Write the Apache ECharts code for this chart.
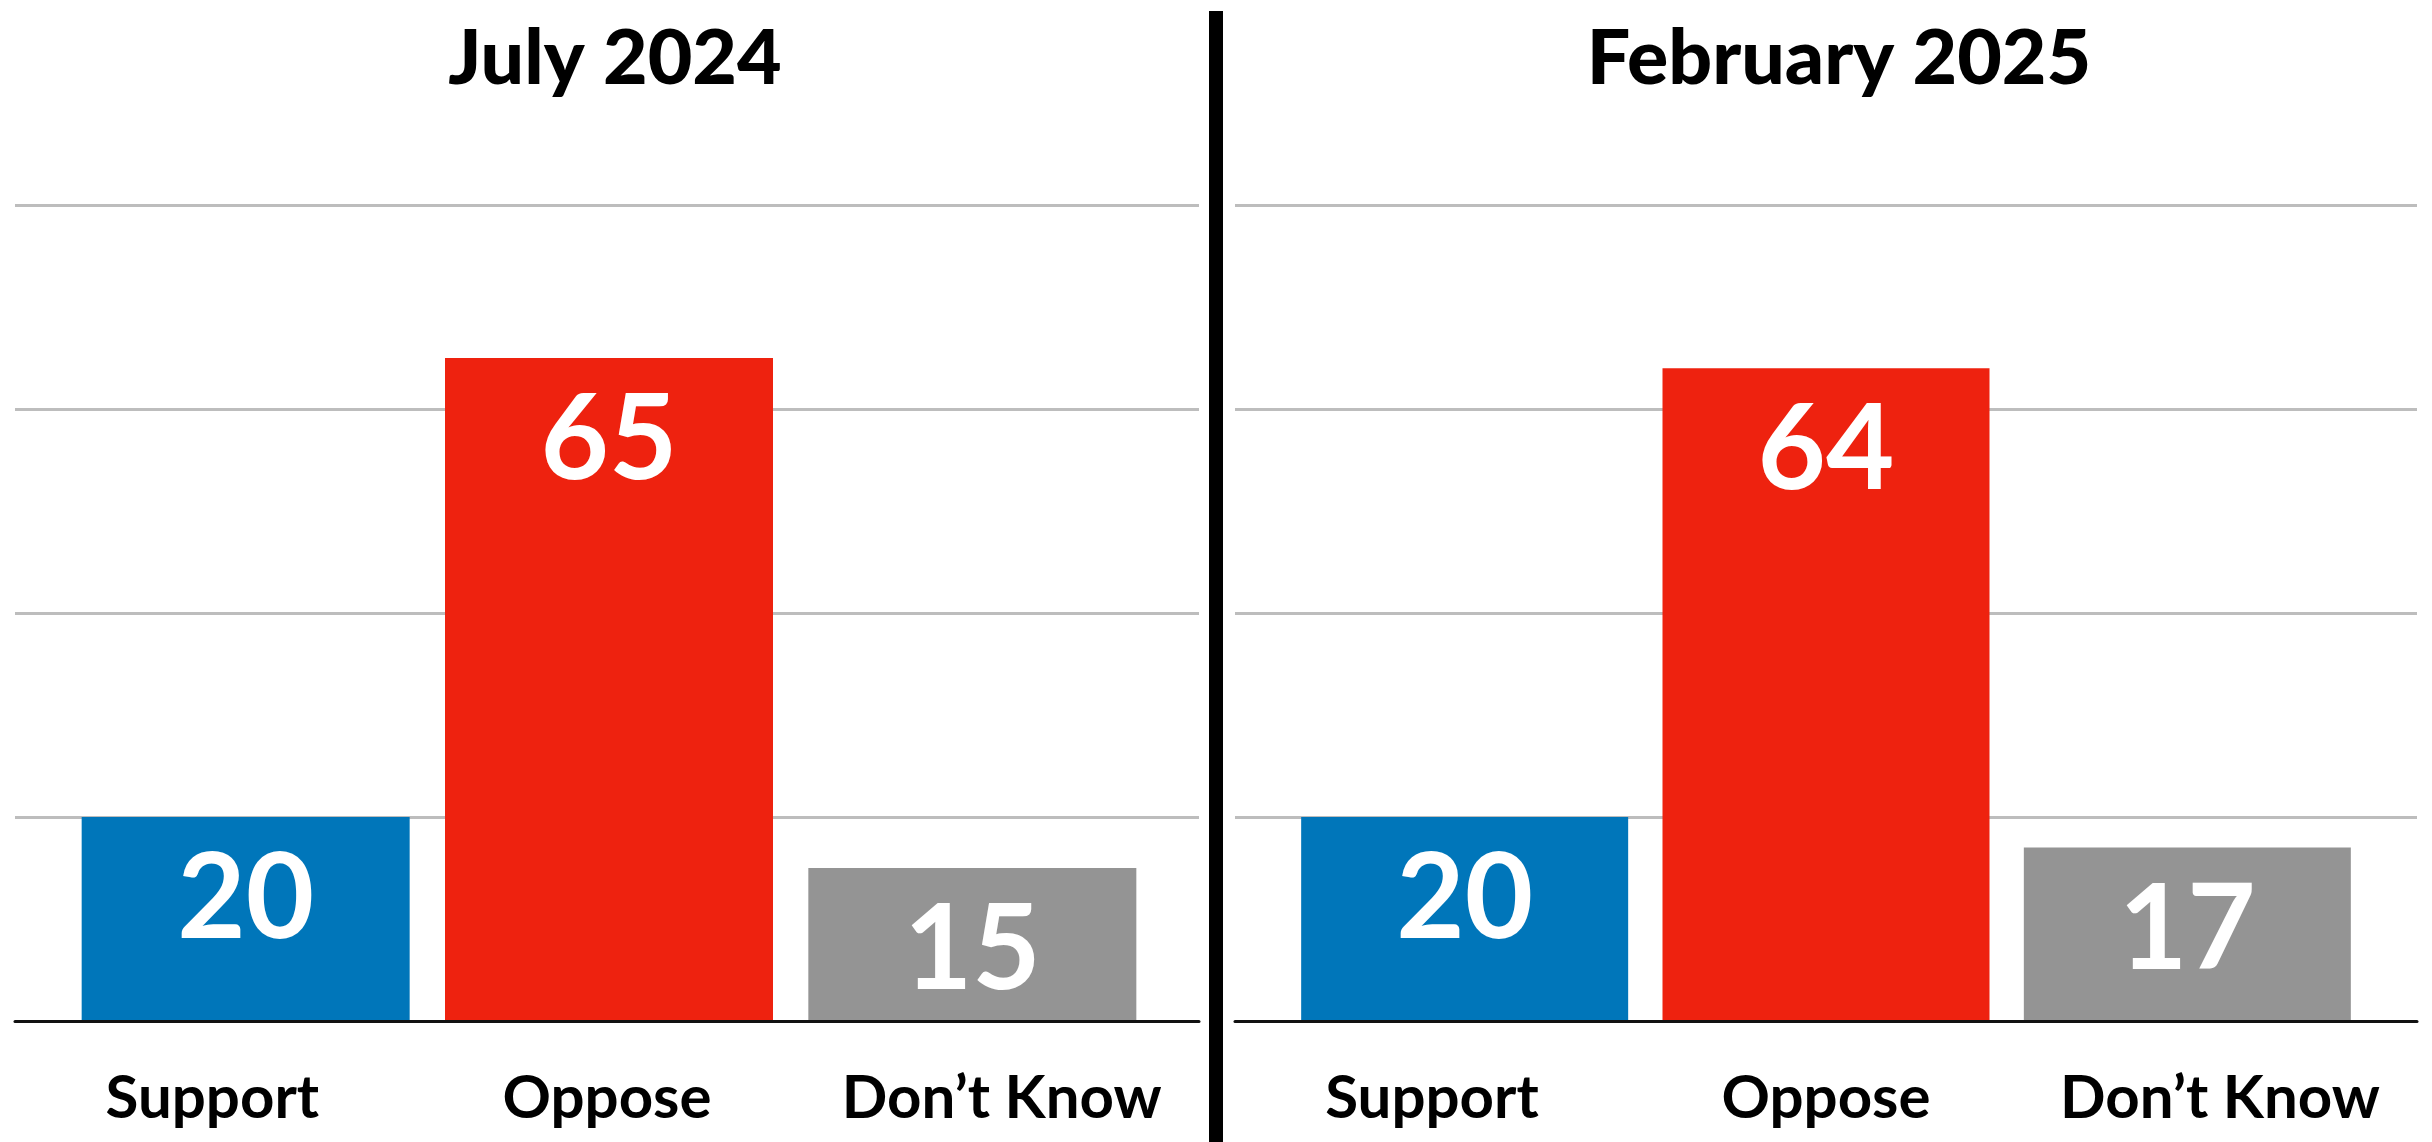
<!DOCTYPE html>
<html>
<head>
<meta charset="utf-8">
<script src="https://cdn.jsdelivr.net/npm/echarts@6/dist/echarts.min.js"></script>
<style>
html,body{margin:0;padding:0;background:#fff;}
#chart{width:2432px;height:1142px;}
</style>
</head>
<body>
<div id="chart"></div>
<script>
// ---- data ----
const categories = ['Support', 'Oppose', 'Don\u2019t Know'];
const periods = ['July 2024', 'February 2025'];
const july2024 = [20, 65, 15];
const february2025 = [20, 64, 17];
const yMin = 0, yMax = 80, yStep = 20;

// ---- styles ----
const barColors = ['#0076BA', '#EE220F', '#949494'];
const FONT = 'Lato';

const chart = echarts.init(document.getElementById('chart'), null, {renderer: 'canvas'});

const panels = [
  {bgLeft: 15, bgWidth: 1184, barLeft: 64, barWidthGrid: 1090, barW: 328, titleX: 610, values: july2024, title: periods[0]},
  {bgLeft: 1235, bgWidth: 1182, barLeft: 1284, barWidthGrid: 1084, barW: 327, titleX: 1834, values: february2025, title: periods[1]}
];

const grids = [], xAxes = [], yAxes = [], series = [], titles = [];
panels.forEach((p, i) => {
  const gBg = grids.length;
  grids.push({left: p.bgLeft, width: p.bgWidth, top: 205, height: 816, containLabel: false});
  xAxes.push({
    type: 'category', gridIndex: gBg, data: categories, z: 5,
    axisLine: {show: true, lineStyle: {color: '#111', width: 3}},
    axisTick: {show: false},
    axisLabel: {interval: 0, hideOverlap: false, color: '#000', fontFamily: FONT, fontWeight: 'bold', fontSize: 60, margin: 48}
  });
  yAxes.push({
    type: 'value', gridIndex: gBg, min: yMin, max: yMax, interval: yStep,
    axisLabel: {show: false}, axisLine: {show: false}, axisTick: {show: false},
    splitLine: {show: true, lineStyle: {color: '#bdbdbd', width: 3}}
  });
  const gBar = grids.length;
  grids.push({left: p.barLeft, width: p.barWidthGrid, top: 205, height: 816, containLabel: false});
  xAxes.push({type: 'category', gridIndex: gBar, data: categories, show: false});
  yAxes.push({type: 'value', gridIndex: gBar, min: yMin, max: yMax, interval: yStep, show: false, splitLine: {show: false}});
  series.push({
    type: 'bar', name: p.title, xAxisIndex: gBar, yAxisIndex: gBar,
    barWidth: p.barW,
    data: p.values,
    itemStyle: {color: (params) => barColors[params.dataIndex]},
    label: {
      show: true, position: 'insideTop', distance: 24,
      color: '#fff', fontFamily: FONT, fontWeight: 'bold', fontSize: 118
    },
    silent: true, z: 2
  });
  titles.push({
    text: p.title, left: p.titleX, top: 16, textAlign: 'center',
    textStyle: {color: '#000', fontFamily: FONT, fontWeight: 900, fontSize: 77}
  });
});

chart.setOption({
  animation: false,
  backgroundColor: '#fff',
  title: titles,
  grid: grids,
  xAxis: xAxes,
  yAxis: yAxes,
  series: series,
  graphic: [{
    type: 'rect', shape: {x: 1209, y: 11, width: 14, height: 1131},
    style: {fill: '#000'}, z: 10
  }]
});
</script>
</body>
</html>
